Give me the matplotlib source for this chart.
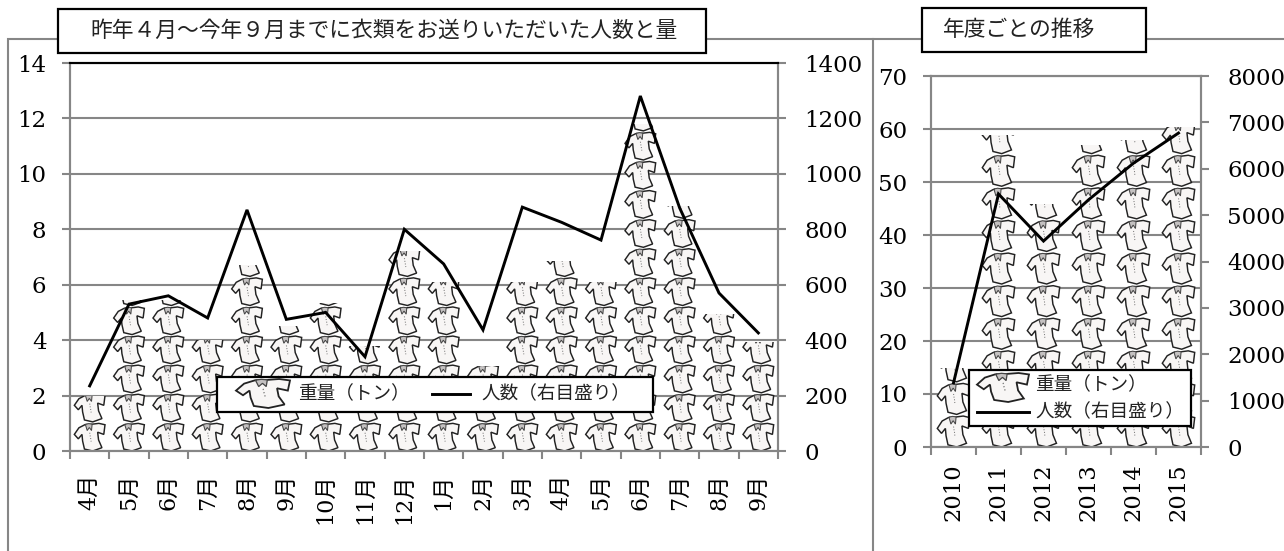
import matplotlib
matplotlib.use('Agg')
import matplotlib.pyplot as plt
from matplotlib.path import Path
from matplotlib.patches import PathPatch, Rectangle
from matplotlib.transforms import Affine2D

plt.rcParams['font.family'] = ['DejaVu Serif', 'Noto Sans CJK JP']

GRAY = '#868686'
JP = ['Noto Sans CJK JP', 'DejaVu Sans']

# monthly figures
months = ['4月', '5月', '6月', '7月', '8月', '9月', '10月', '11月', '12月',
          '1月', '2月', '3月', '4月', '5月', '6月', '7月', '8月', '9月']
month_tons = [2.0, 5.45, 5.45, 4.0, 6.7, 4.5, 5.35, 3.8, 7.2,
              6.08, 3.05, 6.08, 6.87, 6.08, 11.8, 8.85, 4.96, 3.92]
month_people = [235, 530, 560, 480, 870, 475, 500, 340, 800,
                675, 437, 880, 825, 761, 1281, 877, 570, 426]

# yearly figures
years = ['2010', '2011', '2012', '2013', '2014', '2015']
year_tons = [15, 58.9, 45.8, 57, 58, 60.4]
year_people = [1380, 5455, 4440, 5330, 6120, 6770]

# t-shirt outline in a unit box, y pointing up
OUTLINE = [(0.36, 0.96), (0.15, 0.84), (0.0, 0.60), (0.13, 0.44), (0.25, 0.60),
           (0.27, 0.36), (0.33, 0.07), (0.60, 0.0), (0.90, 0.12), (0.79, 0.40),
           (0.76, 0.68), (0.96, 0.60), (1.00, 0.95), (0.80, 1.0), (0.58, 0.97),
           (0.36, 0.96)]
COLLAR = [(0.36, 0.96), (0.42, 0.74), (0.49, 0.85), (0.56, 0.74), (0.58, 0.97),
          (0.47, 0.99), (0.36, 0.96)]
PLACKET = [(0.50, 0.66), (0.51, 0.62), (0.52, 0.52), (0.53, 0.48), (0.54, 0.38), (0.55, 0.34)]


def poly(points):
    codes = [Path.MOVETO] + [Path.LINETO] * (len(points) - 1)
    return Path(points, codes)


def draw_shirt(ax, x, y, w, h, clip=None, lw=1.05, z=2):
    tf = Affine2D().scale(w, h).translate(x - w / 2, y) + ax.transData
    parts = [
        PathPatch(poly(OUTLINE), fc='#f8f6f5', ec='#222222', lw=lw, transform=tf, zorder=z),
        PathPatch(poly(COLLAR), fc='#c4c1c1', ec='#444444', lw=lw * 0.7, transform=tf, zorder=z),
        PathPatch(poly(PLACKET), fc='none', ec='#777777', lw=lw * 0.7, ls=':', transform=tf, zorder=z),
    ]
    for p in parts:
        ax.add_patch(p)
        if clip is not None:
            p.set_clip_path(clip)


def shirt_stack(ax, values, unit, width):
    # picture bars: shirts piled up, the last one cut off at the value
    for i, v in enumerate(values):
        clip = Rectangle((i, 0), 1, v, transform=ax.transData)
        y = 0.0
        while y < v:
            draw_shirt(ax, i + 0.5, y, width, unit * 0.95, clip=clip)
            y += unit


def style_axis(ax, right=False):
    for s in ax.spines.values():
        s.set_color(GRAY)
        s.set_linewidth(1.5)
    ax.tick_params(axis='both', which='major', color=GRAY, width=1.5, length=6)
    ax.tick_params(axis='y', pad=11 if not right else 13, labelsize=16.5)


def make_chart(rect, labels, tons, people, ymax, ystep, rmax, rstep, unit, width, xsize, xpad):
    ax = fig.add_axes(rect)
    n = len(labels)
    ax.set_xlim(0, n)
    ax.set_ylim(0, ymax)
    ax.set_yticks(range(0, ymax + 1, ystep))
    ax.set_xticks(range(n + 1))
    ax.set_xticklabels([])
    ax.set_xticks([i + 0.5 for i in range(n)], labels, minor=True, rotation=90, fontsize=xsize)
    ax.tick_params(axis='x', which='minor', length=0, pad=xpad)
    ax.yaxis.grid(True, color=GRAY, lw=1.5)
    ax.set_axisbelow(True)
    style_axis(ax)
    shirt_stack(ax, tons, unit, width)

    ax2 = ax.twinx()
    ax2.set_ylim(0, rmax)
    ax2.set_yticks(range(0, rmax + 1, rstep))
    style_axis(ax2, right=True)
    ax2.plot([i + 0.5 for i in range(n)], people, color='black', lw=2.1, solid_joinstyle='miter')
    return ax, ax2


def px_rect(x0, y0, x1, y1):
    return [x0 / W, 1 - y1 / H, (x1 - x0) / W, (y1 - y0) / H]


W, H = 1284, 551
fig = plt.figure(figsize=(W / 100, H / 100), dpi=100, facecolor='white')

ax1, ax1r = make_chart(px_rect(70, 63, 778, 451), months, month_tons, month_people,
                       14, 2, 1400, 200, 1.05, 0.78, 16, 16)
ax1.spines['top'].set_color('black')
ax1r.spines['top'].set_color('black')

ax2, ax2r = make_chart(px_rect(931, 76, 1201, 447), years, year_tons, year_people,
                       70, 10, 8000, 1000, 6.15, 0.72, 16.3, 12)

# frames, title boxes and legends are placed in pixels on a sheet over the charts
top = fig.add_axes([0, 0, 1, 1])
top.set_xlim(0, W)
top.set_ylim(H, 0)
top.axis('off')
top.patch.set_alpha(0)

top.plot([8, 8, W], [H, 38.5, 38.5], color=GRAY, lw=1.5, solid_joinstyle='miter')
top.plot([872.5, 872.5], [38.5, H], color=GRAY, lw=1.5)


def box(x0, y0, x1, y1, lw=1.6):
    top.add_patch(Rectangle((x0, y0), x1 - x0, y1 - y0, fc='white', ec='black', lw=lw, zorder=5))


box(58, 9, 706, 53)
top.text(384.5, 31, '昨年４月～今年９月までに衣類をお送りいただいた人数と量', family=JP,
         fontsize=15.7, ha='center', va='center', zorder=6, color='#222222')
box(922, 8, 1146, 52)
top.text(1019.5, 30, '年度ごとの推移', family=JP, fontsize=15.7,
         ha='center', va='center', zorder=6, color='#222222')

box(217, 377, 653, 412)
draw_shirt(top, 263, 408, 54, -29, lw=1.3, z=6)
top.text(298, 394, '重量（トン）', family=JP, fontsize=13.4, va='center', zorder=6, color='#222222')
top.plot([432, 470], [394, 394], color='black', lw=2.1, zorder=6)
top.text(481, 394, '人数（右目盛り）', family=JP, fontsize=13.4, va='center', zorder=6, color='#222222')

box(969, 370, 1191, 426)
draw_shirt(top, 1003, 402, 52, -29, lw=1.3, z=6)
top.text(1035, 385, '重量（トン）', family=JP, fontsize=13.4, va='center', zorder=6, color='#222222')
top.plot([977, 1029], [412, 412], color='black', lw=2.1, zorder=6)
top.text(1035, 412, '人数（右目盛り）', family=JP, fontsize=13.4, va='center', zorder=6, color='#222222')

fig.savefig('out.png', dpi=100)
